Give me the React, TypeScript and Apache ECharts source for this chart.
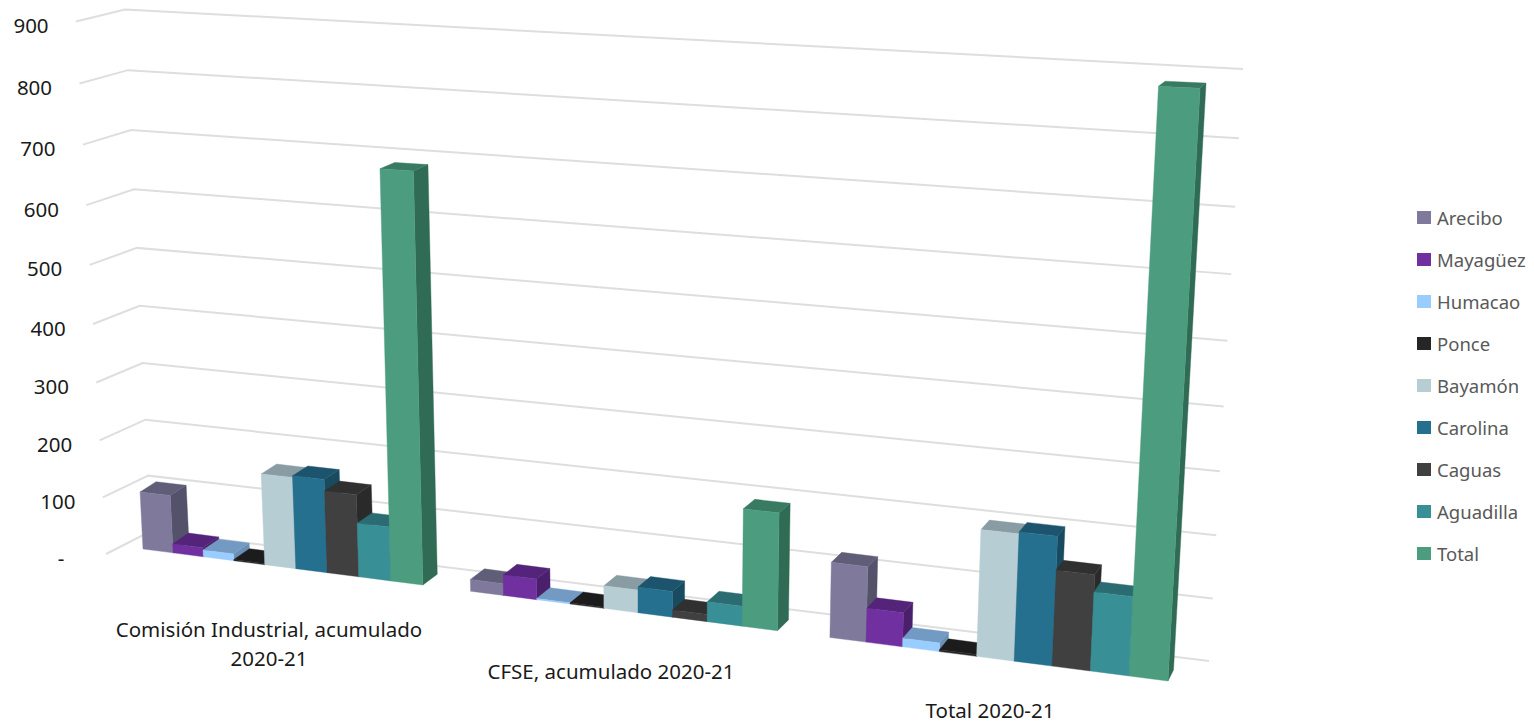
import React, { useEffect, useRef } from "react";
import * as echarts from "echarts";

const categories = ["Comisión Industrial, acumulado\n2020-21", "CFSE, acumulado 2020-21", "Total 2020-21"];
const yTicks = [0, 100, 200, 300, 400, 500, 600, 700, 800, 900];
const yTickLabels = ["-", "100", "200", "300", "400", "500", "600", "700", "800", "900"];
const seriesNames = ["Arecibo", "Mayagüez", "Humacao", "Ponce", "Bayamón", "Carolina", "Caguas", "Aguadilla", "Total"];

const arecibo = [102, 20, 122];
const mayaguez = [16, 35, 55];
const humacao = [12, 2, 14];
const ponce = [2, 2, 3];
const bayamon = [159, 38, 201];
const carolina = [162, 43, 204];
const caguas = [142, 12, 151];
const aguadilla = [93, 33, 124];
const total = [687, 192, 876];
const seriesValues = [arecibo, mayaguez, humacao, ponce, bayamon, carolina, caguas, aguadilla, total];

const frontColors = ["#7F7A9C", "#7030A0", "#99CCFF", "#262626", "#B7CDD4", "#25708F", "#404040", "#388F96", "#4C9C80"];
const topColors = ["#605D78", "#54247A", "#729AC2", "#1C1C1C", "#8A9CA3", "#1B546C", "#303030", "#2A6C72", "#397A62"];
const sideColors = ["#54516A", "#4A1F6C", "#6A8FB4", "#141414", "#7B8B90", "#184B60", "#2A2A2A", "#256066", "#2F6B55"];

type P = [number, number];
function homography(p0: P, p1: P, p2: P, p3: P) {
  const dx1 = p1[0] - p2[0], dx2 = p3[0] - p2[0], sx = p0[0] - p1[0] + p2[0] - p3[0];
  const dy1 = p1[1] - p2[1], dy2 = p3[1] - p2[1], sy = p0[1] - p1[1] + p2[1] - p3[1];
  const den = dx1 * dy2 - dx2 * dy1;
  const g = (sx * dy2 - dx2 * sy) / den, h = (dx1 * sy - sx * dy1) / den;
  const a = p1[0] - p0[0] + g * p1[0], b = p3[0] - p0[0] + h * p3[0], c = p0[0];
  const d = p1[1] - p0[1] + g * p1[1], e = p3[1] - p0[1] + h * p3[1], f = p0[1];
  return (u: number, v: number): P => {
    const w = g * u + h * v + 1;
    return [(a * u + b * v + c) / w, (d * u + e * v + f) / w];
  };
}

// planes of the skewed view: (bottom-left, bottom-right, top-right, top-left)
const wall = homography([151, 531], [1209, 661], [1243, 69], [125, 9.5]);
const barFront = homography([143, 549], [1168, 681], [1201, 71], [116, 22]);
const barBack = homography([159, 538], [1173.5, 670], [1207, 66], [132, 17]);
const sideNear: P = [106, 554];
const sideNearTop: P = [76, 21.5];
const GAP = 0.07;
const CAT_COUNT = categories.length;
const BAR_UNIT = (1 - 2 * GAP) / seriesNames.length;
const catLabelOffset: P[] = [[269, 643], [611, 671], [990, 710]];
const AXIS_FONT = '20.5px "Noto Sans"';
const warp = (s: number, k: number) => (s * k) / (1 + s * (k - 1));

function norm(api: any, params: any, cat: number, val: number) {
  const c = api.coord([cat, val]);
  const sys = params.coordSys;
  return { t: ((c[0] - sys.x) / sys.width) * CAT_COUNT, v: (sys.y + sys.height - c[1]) / sys.height };
}

const barRenderer = (si: number) => (params: any, api: any) => {
  const cat = api.value(0);
  const val = api.value(1);
  const { t, v } = norm(api, params, cat, val);
  const t0 = t - 0.5 + GAP + si * BAR_UNIT;
  const t1 = t0 + BAR_UNIT;
  const s = (x: number) => (x - GAP) / (CAT_COUNT - 2 * GAP);
  const f = (x: number) => warp(s(x), 1.016);
  const b = (x: number) => warp(s(x), 1.024);
  const fl0 = barFront(f(t0), 0), fr0 = barFront(f(t1), 0), fr1 = barFront(f(t1), v), fl1 = barFront(f(t0), v);
  const br0 = barBack(b(t1), 0), br1 = barBack(b(t1), v), bl1 = barBack(b(t0), v);
  const poly = (points: P[], fill: string) => ({
    type: "polygon",
    shape: { points },
    style: { fill, stroke: fill, lineWidth: 0.4 },
  });
  return {
    type: "group",
    children: [
      poly([fr0, br0, br1, fr1], sideColors[si]),
      poly([fl1, fr1, br1, bl1], topColors[si]),
      poly([fl0, fr0, fr1, fl1], frontColors[si]),
    ],
  };
};

const gridRenderer = (params: any, api: any) => {
  const idx = params.dataIndex;
  const { v } = norm(api, params, 0, api.value(0));
  const left = wall(0, v);
  const right = wall(1, v);
  const bottom = wall(0, 0), top = wall(0, 1);
  const frac = (left[1] - bottom[1]) / (top[1] - bottom[1]);
  const near: P = [
    sideNear[0] + (sideNearTop[0] - sideNear[0]) * frac,
    sideNear[1] + (sideNearTop[1] - sideNear[1]) * frac,
  ];
  return {
    type: "group",
    children: [
      { type: "polyline", shape: { points: [near, left, right] }, style: { fill: "none", stroke: "#DEDEDE", lineWidth: 2 } },
      {
        type: "text",
        x: near[0] - 45,
        y: near[1] + 3.5,
        style: { text: yTickLabels[idx], font: AXIS_FONT, fill: "#1A1A1A", align: "center", verticalAlign: "middle" },
      },
    ],
  };
};

const catLabelRenderer = (params: any) => {
  const idx = params.dataIndex;
  const pos = catLabelOffset[idx];
  return {
    type: "text",
    x: pos[0],
    y: pos[1],
    style: {
      text: categories[idx],
      font: AXIS_FONT,
      lineHeight: idx === 0 ? 29 : 22,
      fill: "#1A1A1A",
      align: "center",
      verticalAlign: "middle",
    },
  };
};

export default function App() {
  const ref = useRef<HTMLDivElement>(null);
  useEffect(() => {
    document.body.style.margin = "0";
    document.body.style.overflow = "hidden";
    const chart = echarts.init(ref.current!, undefined, { renderer: "svg" });
    const barSeries = seriesNames.map((name, si) => ({
      name,
      type: "custom",
      coordinateSystem: "cartesian2d",
      clip: false,
      silent: true,
      z: 3,
      itemStyle: { color: frontColors[si] },
      encode: { x: 0, y: 1 },
      data: seriesValues[si].map((val, c) => [c, val]),
      renderItem: barRenderer(si),
    }));
    chart.setOption({
      animation: false,
      backgroundColor: "#FFFFFF",
      tooltip: { show: false },
      grid: { left: 0, right: 0, top: 0, bottom: 0 },
      xAxis: { type: "category", data: categories, show: false },
      yAxis: { type: "value", min: 0, max: 900, interval: 100, show: false },
      legend: {
        orient: "vertical",
        left: 1412,
        top: 203,
        itemWidth: 14,
        itemHeight: 13,
        itemGap: 23,
        icon: "rect",
        data: seriesNames,
        textStyle: { color: "#595959", fontFamily: "Noto Sans", fontSize: 18.5, padding: [0, 0, 0, 1] },
      },
      series: [
        {
          name: "gridlines",
          type: "custom",
          coordinateSystem: "cartesian2d",
          clip: false,
          silent: true,
          z: 1,
          encode: { y: 0 },
          data: yTicks.map((t) => [t]),
          renderItem: gridRenderer,
        },
        {
          name: "categoryLabels",
          type: "custom",
          coordinateSystem: "cartesian2d",
          clip: false,
          silent: true,
          z: 2,
          data: categories.map((_, i) => [i]),
          renderItem: catLabelRenderer,
        },
        ...barSeries,
      ],
    });
    return () => chart.dispose();
  }, []);
  return <div ref={ref} style={{ width: 1534, height: 723 }} />;
}
